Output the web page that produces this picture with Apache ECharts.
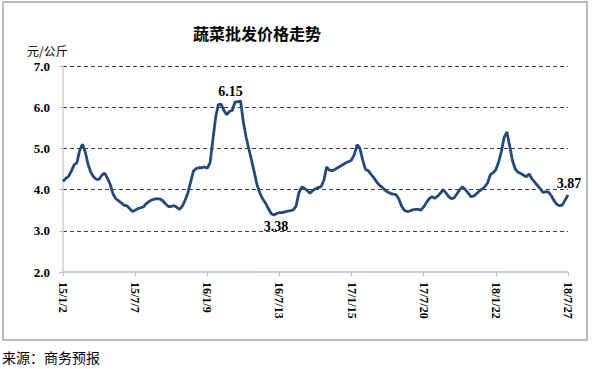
<!DOCTYPE html>
<html><head><meta charset="utf-8">
<script src="https://cdn.jsdelivr.net/npm/echarts@6/dist/echarts.min.js"></script>
<style>html,body{margin:0;padding:0;background:#fff}#c{width:594px;height:369px}</style>
</head><body><div id="c"></div>
<script>
const tickLabels = ['15/1/2','15/7/7','16/1/9','16/7/13','17/1/15','17/7/20','18/1/22','18/7/27'];
const tickStep = 26;
const prices = [
4.20,4.27,4.32,4.45,4.60,4.65,4.95,5.10,4.92,4.62,
4.42,4.31,4.25,4.25,4.35,4.40,4.28,4.13,3.90,3.78,
3.73,3.68,3.62,3.61,3.54,3.47,3.50,3.54,3.56,3.58,
3.66,3.71,3.75,3.77,3.78,3.77,3.73,3.65,3.59,3.59,
3.61,3.57,3.52,3.60,3.74,3.92,4.18,4.45,4.51,4.53,
4.53,4.55,4.52,4.65,5.20,5.75,6.07,6.07,5.92,5.82,
5.90,5.92,6.13,6.13,6.15,5.64,5.27,4.98,4.70,4.40,
4.10,3.91,3.77,3.67,3.54,3.42,3.38,3.42,3.44,3.44,
3.46,3.48,3.49,3.51,3.60,3.92,4.06,4.03,3.98,3.91,
3.98,4.02,4.05,4.07,4.22,4.55,4.47,4.46,4.49,4.53,
4.57,4.61,4.65,4.68,4.72,4.85,5.09,5.00,4.72,4.49,
4.46,4.37,4.29,4.19,4.11,4.06,3.99,3.94,3.91,3.89,
3.88,3.78,3.60,3.50,3.47,3.48,3.51,3.52,3.52,3.50,
3.58,3.69,3.78,3.83,3.79,3.84,3.91,4.00,3.92,3.83,
3.78,3.80,3.90,4.00,4.07,4.00,3.92,3.83,3.84,3.90,
3.96,4.01,4.07,4.16,4.36,4.41,4.48,4.67,4.93,5.27,
5.40,5.05,4.70,4.50,4.42,4.39,4.35,4.31,4.38,4.26,
4.18,4.10,4.02,3.93,3.95,3.94,3.85,3.73,3.64,3.61,
3.63,3.75,3.87
];
const categories = prices.map((_, i) => String(i));
const annotatedIdx = [64, 76, 182];
const annotatedPos = [['top', [-10, 3]], ['bottom', [2, -2]], ['top', [1, 2]]];

const lblFont = {fontFamily: 'Liberation Serif', fontWeight: 'bold', fontSize: 14, color: '#000'};
const markData = annotatedIdx.map((i, k) => ({
  coord: [categories[i], prices[i]],
  value: prices[i].toFixed(2),
  label: Object.assign({show: true, formatter: prices[i].toFixed(2), position: annotatedPos[k][0], offset: annotatedPos[k][1], distance: 5}, lblFont)
}));

const chart = echarts.init(document.getElementById('c'), null, {renderer: 'svg'});
chart.setOption({
  backgroundColor: '#fff',
  animation: false,
  grid: {left: 63, right: 26, top: 66, bottom: 97},
  graphic: [
    {type: 'rect', shape: {x: 3, y: 2, width: 584, height: 338}, style: {fill: 'none', stroke: '#a6a6a6', lineWidth: 1.5}, z: -10},
    {type: 'text', x: 257, y: 33, style: {text: '蔬菜批发价格走势', font: 'bold 16px "Noto Sans CJK SC"', fill: '#000', textAlign: 'center', textVerticalAlign: 'middle'}},
    {type: 'text', x: 27, y: 50, style: {text: '元/公斤', font: '12px "Noto Sans CJK SC"', fill: '#000', textAlign: 'left', textVerticalAlign: 'middle'}},
    {type: 'text', x: 2, y: 357, style: {text: '来源：商务预报', font: '14px "Noto Sans CJK SC"', fill: '#000', textAlign: 'left', textVerticalAlign: 'middle'}}
  ],
  xAxis: {
    type: 'category',
    data: categories,
    boundaryGap: false,
    axisLine: {lineStyle: {color: '#bfbfbf', width: 1.5}},
    axisTick: {show: true, interval: (i) => i % tickStep === 0, length: 4, lineStyle: {color: '#bfbfbf'}},
    axisLabel: {
      interval: (i) => i % tickStep === 0,
      rotate: -90,
      margin: 10,
      formatter: (v, i) => tickLabels[i / tickStep] || '',
      fontFamily: 'Liberation Serif', fontWeight: 'bold', fontSize: 12, color: '#000'
    },
    splitLine: {show: false}
  },
  yAxis: {
    type: 'value',
    min: 2, max: 7, interval: 1,
    axisLine: {show: true, lineStyle: {color: '#d0d0d0', width: 1.5}},
    axisTick: {show: true, length: 4, lineStyle: {color: '#bfbfbf'}},
    axisLabel: {formatter: (v) => v.toFixed(1), margin: 13, fontFamily: 'Liberation Serif', fontWeight: 'bold', fontSize: 13, color: '#000'},
    splitLine: {show: true, showMinLine: false, lineStyle: {color: '#404040', type: [4, 3], width: 1.2}}
  },
  series: [{
    type: 'line',
    data: prices,
    symbol: 'none',
    smooth: false,
    lineStyle: {color: '#24497b', width: 2.8},
    markPoint: {
      symbol: 'circle',
      symbolSize: 2,
      itemStyle: {color: 'rgba(0,0,0,0)'},
      data: markData
    }
  }]
});
</script></body></html>
